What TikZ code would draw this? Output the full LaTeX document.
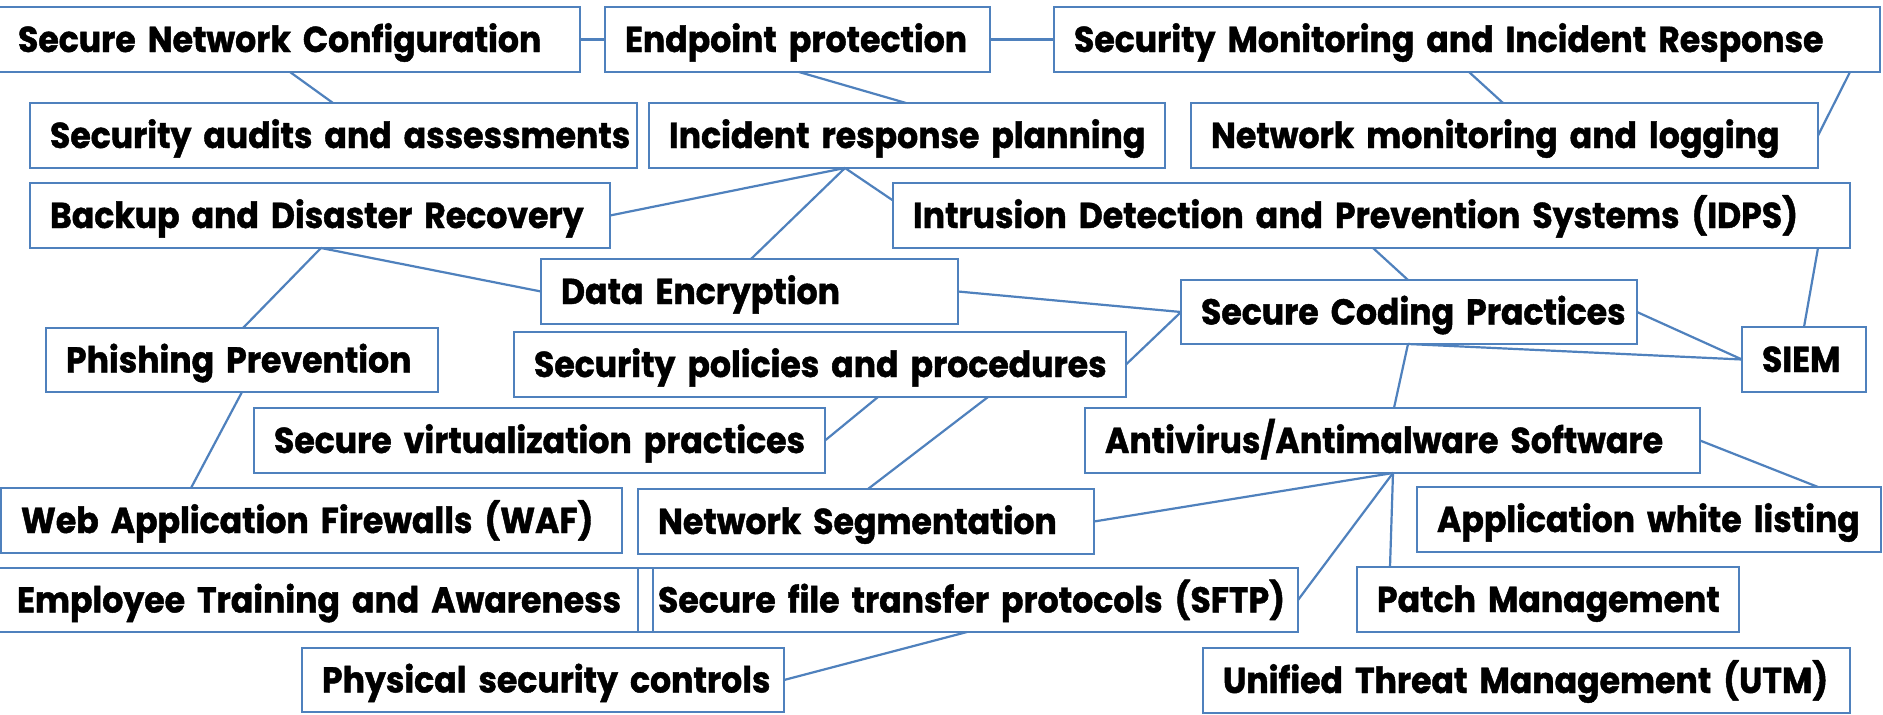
\documentclass[tikz,border=0pt]{standalone}
\usepackage{fontspec}
\newfontfamily\labfont{Poppins}[FakeStretch=0.92, FakeBold=1.2]
\definecolor{lineblue}{RGB}{79,129,189}

\tikzset{
  box/.style={draw=lineblue, line width=2.6pt, rectangle, anchor=north west,
    outer sep=0pt, inner xsep=20pt, inner ysep=0pt,
    text height=25pt, text depth=0pt, align=left,
    font=\labfont\bfseries\fontsize{36}{40}\selectfont},
  link/.style={draw=lineblue, line width=2.2pt}
}

% \boxnode{name}{x}{y}{width}{height}{label}
\newcommand{\boxnode}[6]{%
  \pgfmathsetlengthmacro\boxtw{#4-40}%
  \node[box, minimum width=#4pt, minimum height=#5pt, text width=\boxtw]
    (#1) at (#2,#3) {\mbox{#6}};%
}

\begin{document}
\begin{tikzpicture}[x=1pt, y=-1pt]
\useasboundingbox (0,0) rectangle (1883,715);
\fill[white] (0,0) rectangle (1883,715);

\boxnode{snc}{-2}{7}{582}{65}{Secure Network Configuration}
\boxnode{ep}{605}{7}{385}{65}{Endpoint protection}
\boxnode{smir}{1054}{7}{826}{65}{Security Monitoring and Incident Response}
\boxnode{saa}{30}{103}{607}{65}{Security audits and assessments}
\boxnode{irp}{649}{103}{516}{65}{Incident response planning}
\boxnode{nml}{1191}{103}{627}{65}{Network monitoring and logging}
\boxnode{bdr}{30}{183}{580}{65}{Backup and Disaster Recovery}
\boxnode{idps}{893}{183}{957}{65}{Intrusion Detection and Prevention Systems (IDPS)}
\boxnode{de}{541}{259}{417}{65}{Data Encryption}
\boxnode{scp}{1181}{280}{456}{64}{Secure Coding Practices}
\boxnode{siem}{1742}{327}{124}{65}{SIEM}
\boxnode{pp}{46}{328}{392}{64}{Phishing Prevention}
\boxnode{spp}{514}{332}{612}{65}{Security policies and procedures}
\boxnode{svp}{254}{408}{571}{65}{Secure virtualization practices}
\boxnode{av}{1085}{408}{615}{65}{Antivirus/Antimalware Software}
\boxnode{waf}{1}{488}{621}{65}{Web Application Firewalls (WAF)}
\boxnode{ns}{638}{489}{456}{65}{Network Segmentation}
\boxnode{awl}{1417}{487}{464}{65}{Application white listing}
\boxnode{eta}{-3}{568}{656}{64}{Employee Training and Awareness}
\boxnode{sftp}{638}{568}{660}{64}{Secure file transfer protocols (SFTP)}
\boxnode{pm}{1357}{567}{382}{65}{Patch Management}
\boxnode{psc}{302}{648}{482}{64}{Physical security controls}
\boxnode{utm}{1203}{648}{647}{65}{Unified Threat Management (UTM)}

% connectors
\draw[link] (snc.east) -- (ep.west);
\draw[link] (ep.east) -- (smir.west);
\draw[link] ([xshift=292pt]snc.south west) -- ([xshift=303pt]saa.north west);
\draw[link] ([xshift=194pt]ep.south west) -- ([xshift=257pt]irp.north west);
\draw[link] ([xshift=415pt]smir.south west) -- ([xshift=312pt]nml.north west);
\draw[link] ([xshift=-30pt]smir.south east) -- (nml.east);
\draw[link] ([xshift=196pt]irp.south west) -- (bdr.east);
\draw[link] ([xshift=196pt]irp.south west) -- ([xshift=210pt]de.north west);
\draw[link] ([xshift=196pt]irp.south west) -- ([yshift=15pt]idps.west);
\draw[link] ([xshift=291pt]bdr.south west) -- ([xshift=197pt]pp.north west);
\draw[link] ([xshift=291pt]bdr.south west) -- (de.west);
\draw[link] (de.east) -- (scp.west);
\draw[link] ([xshift=480pt]idps.south west) -- ([xshift=227pt]scp.north west);
\draw[link] ([xshift=925pt]idps.south west) -- (siem.north);
\draw[link] (scp.east) -- (siem.west);
\draw[link] ([xshift=227pt]scp.south west) -- (siem.west);
\draw[link] (scp.west) -- (spp.east);
\draw[link] ([xshift=227pt]scp.south west) -- ([xshift=309pt]av.north west);
\draw[link] ([xshift=364pt]spp.south west) -- (svp.east);
\draw[link] ([xshift=474pt]spp.south west) -- ([xshift=230pt]ns.north west);
\draw[link] ([xshift=196pt]pp.south west) -- ([xshift=190pt]waf.north west);
\draw[link] ([xshift=308pt]av.south west) -- (ns.east);
\draw[link] ([xshift=308pt]av.south west) -- (sftp.east);
\draw[link] ([xshift=308pt]av.south west) -- ([xshift=33pt]pm.north west);
\draw[link] (av.east) -- ([xshift=401pt]awl.north west);
\draw[link] ([xshift=329pt]sftp.south west) -- (psc.east);
\end{tikzpicture}
\end{document}
